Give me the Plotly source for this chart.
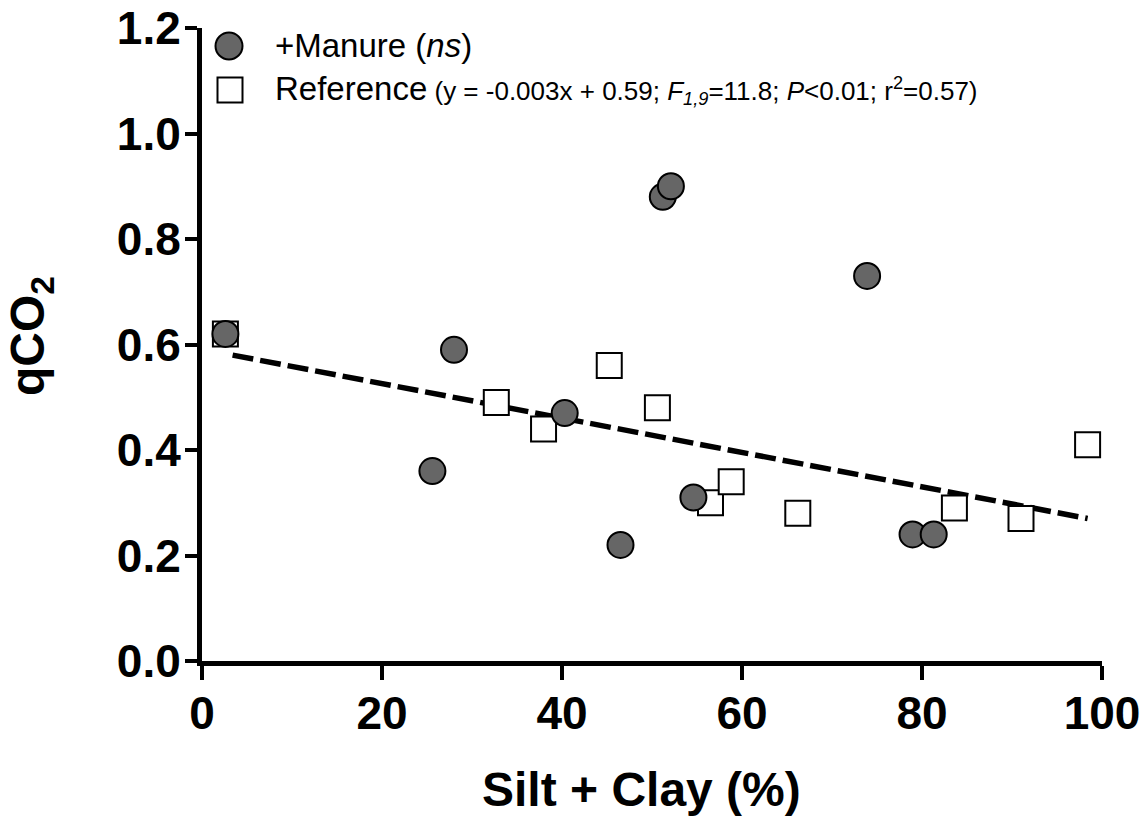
import plotly.graph_objects as go

# ---- data ----
manure_x = [2.6, 25.6, 28.0, 40.3, 46.5, 51.2, 52.1, 54.6, 73.9, 78.95, 81.3]
manure_y = [0.62, 0.36, 0.59, 0.47, 0.22, 0.88, 0.90, 0.31, 0.73, 0.24, 0.24]
ref_x = [2.6, 32.7, 37.95, 45.25, 50.6, 56.5, 58.8, 66.2, 83.6, 91.0, 98.4]
ref_y = [0.62, 0.49, 0.44, 0.56, 0.48, 0.30, 0.34, 0.28, 0.29, 0.27, 0.41]
fit_slope = -0.00326
fit_intercept = 0.591
fit_x = [3.4, 98.4]
fit_y = [fit_slope * v + fit_intercept for v in fit_x]

x_ticks = [0, 20, 40, 60, 80, 100]
y_ticks = [0.0, 0.2, 0.4, 0.6, 0.8, 1.0, 1.2]
y_ticklabels = ["0.0", "0.2", "0.4", "0.6", "0.8", "1.0", "1.2"]

x_title = "<b>Silt + Clay (%)</b>"
y_title = "<b>qCO<sub>2</sub></b>"
manure_label = "+Manure (<i>ns</i>)"
ref_label = ("Reference<span style='font-size:26px'> (y = -0.003x + 0.59; "
             "<i>F</i><sub><i>1,9</i></sub>=11.8; <i>P</i>&lt;0.01; r<sup>2</sup>=0.57)</span>")

fig = go.Figure()
fig.add_trace(go.Scatter(x=fit_x, y=fit_y, mode="lines",
                         line=dict(color="black", width=5.5, dash="21px,7px"),
                         showlegend=False, hoverinfo="skip"))
fig.add_trace(go.Scatter(x=ref_x, y=ref_y, mode="markers",
                         marker=dict(symbol="square", size=25, color="white",
                                     line=dict(color="black", width=2)),
                         showlegend=False, cliponaxis=False))
fig.add_trace(go.Scatter(x=manure_x, y=manure_y, mode="markers",
                         marker=dict(symbol="circle", size=26, color="#666666",
                                     line=dict(color="black", width=2)),
                         showlegend=False, cliponaxis=False))

W, H = 1146, 832
L, R, T, B = 202, 44, 28, 171
pw, ph = W - L - R, H - T - B

def px(xp):
    return (xp - L) / pw

def py(yp):
    return (H - B - yp) / ph

# legend symbols
fig.add_shape(type="circle", xref="paper", yref="paper",
              xsizemode="pixel", ysizemode="pixel",
              xanchor=px(229), yanchor=py(46),
              x0=-13.5, x1=13.5, y0=-13.5, y1=13.5,
              fillcolor="#666666", line=dict(color="black", width=2))
fig.add_shape(type="rect", xref="paper", yref="paper",
              xsizemode="pixel", ysizemode="pixel",
              xanchor=px(230), yanchor=py(90),
              x0=-12.5, x1=12.5, y0=-12.5, y1=12.5,
              fillcolor="white", line=dict(color="black", width=2))

fig.add_annotation(text=manure_label, xref="paper", yref="paper",
                   x=px(273), y=py(46), xanchor="left", yanchor="middle",
                   showarrow=False,
                   font=dict(family="Liberation Sans", size=33, color="black"))
fig.add_annotation(text=ref_label, xref="paper", yref="paper",
                   x=px(273), y=py(89), xanchor="left", yanchor="middle",
                   showarrow=False,
                   font=dict(family="Liberation Sans", size=33, color="black"))

# axis titles
fig.add_annotation(text=x_title, xref="paper", yref="paper",
                   x=px(641), y=py(789), xanchor="center", yanchor="middle",
                   showarrow=False,
                   font=dict(family="Liberation Sans", size=48, color="black"))
fig.add_annotation(text=y_title, xref="paper", yref="paper",
                   x=px(31), y=py(336), xanchor="center", yanchor="middle",
                   textangle=-90, showarrow=False,
                   font=dict(family="Liberation Sans", size=48, color="black"))

fig.update_layout(
    width=W, height=H,
    margin=dict(l=L, r=R, t=T, b=B),
    plot_bgcolor="white", paper_bgcolor="white",
    font=dict(family="Liberation Sans", color="black"),
    xaxis=dict(range=[0, 100], tickvals=x_ticks, ticks="outside",
               ticklen=14, tickwidth=4, tickcolor="black",
               showline=True, linewidth=5, linecolor="black",
               showgrid=False, zeroline=False, automargin=False,
               ticklabeloverflow="allow", ticklabelstandoff=-6,
               tickfont=dict(family="Liberation Sans", size=46, color="black", weight="bold")),
    yaxis=dict(range=[0, 1.2], tickvals=y_ticks, ticktext=y_ticklabels, ticks="outside",
               ticklen=12, tickwidth=4, tickcolor="black",
               showline=True, linewidth=5, linecolor="black",
               showgrid=False, zeroline=False, automargin=False,
               ticklabeloverflow="allow", ticklabelstandoff=-5,
               tickfont=dict(family="Liberation Sans", size=46, color="black", weight="bold")),
)

fig.write_html("out.html", config={"displayModeBar": False},
               post_script="document.body.style.margin='0';")
